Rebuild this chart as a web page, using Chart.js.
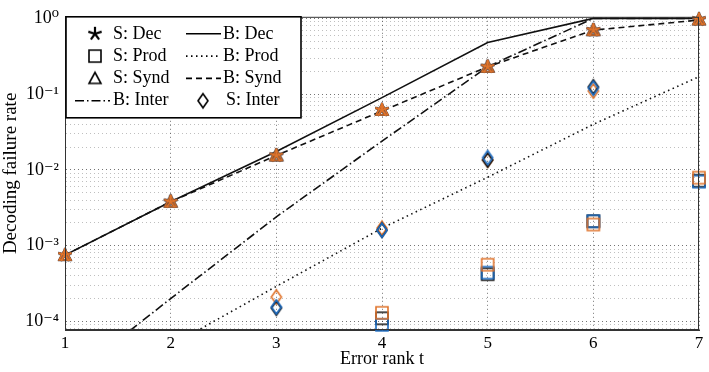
<!DOCTYPE html>
<html>
<head>
<meta charset="utf-8">
<script src="https://cdn.jsdelivr.net/npm/chart.js@4.4.1/dist/chart.umd.min.js"></script>
<style>
  html, body { margin: 0; padding: 0; background: #fff; }
  #wrap { width: 709px; height: 372px; }
</style>
</head>
<body>
<div id="wrap"><canvas id="myChart"></canvas></div>
<script>
const ranks = [1, 2, 3, 4, 5, 6, 7]

// bounds (lines)
const bDec = [7.5e-4, 3.8e-3, 1.75e-2, 9e-2, 0.48, 1, 1]
const bProd = [6e-6, 4.8e-5, 2.9e-4, 1.7e-3, 8e-3, 4e-2, 0.17]
const bSynd = [7.5e-4, 3.8e-3, 1.55e-2, 6e-2, 0.23, 0.7, 0.95]
const bInter = [1.6e-5, 2e-4, 2.4e-3, 2.4e-2, 0.23, 1, 1]

// simulations (markers), three runs each: black, blue, orange
const sDec = [7.5e-4, 3.8e-3, 1.55e-2, 6.2e-2, 0.23, 0.7, 0.97]
const sSynd = [7.5e-4, 3.8e-3, 1.55e-2, 6.2e-2, 0.23, 0.7, 0.97]
const sProdBlack = [null, null, null, 1.1e-4, 4.2e-4, 2.1e-3, 7.2e-3]
const sProdBlue = [null, null, null, 9e-5, 4.4e-4, 2.1e-3, 7e-3]
const sProdOrange = [null, null, null, 1.3e-4, 5.6e-4, 1.9e-3, 7.9e-3]
const sInterBlack = [null, null, 1.5e-4, 1.6e-3, 1.35e-2, 0.125, null]
const sInterBlue = [null, null, 1.55e-4, 1.6e-3, 1.45e-2, 0.12, null]
const sInterOrange = [null, null, 2.1e-4, 1.7e-3, 1.35e-2, 0.11, null]

const yTickLabels = ['10⁻⁴', '10⁻³', '10⁻²', '10⁻¹', '10⁰']
const xTickLabels = ['1', '2', '3', '4', '5', '6', '7']

const BLACK = '#111111'
const BLUE = '#1a6ac0'
const ORANGE = '#e0742c'
const FONT = "'Liberation Serif', 'DejaVu Serif', serif"

// marker images
const makeMarker = (shape, color) => {
    const c = document.createElement('canvas')
    c.width = 18
    c.height = 18
    const ctx = c.getContext('2d')
    ctx.strokeStyle = color
    ctx.lineWidth = 1.6
    ctx.lineJoin = 'miter'
    ctx.beginPath()
    if (shape === 'star') {
        for (let i = 0; i < 5; i++) {
            const a = -Math.PI / 2 + i * 2 * Math.PI / 5
            ctx.moveTo(9, 9)
            ctx.lineTo(9 + 7 * Math.cos(a), 9 + 7 * Math.sin(a))
        }
        ctx.lineWidth = 2.2
    } else if (shape === 'square') {
        ctx.rect(3, 3, 12, 12)
    } else if (shape === 'triangle') {
        ctx.moveTo(9, 3)
        ctx.lineTo(15, 14)
        ctx.lineTo(3, 14)
        ctx.closePath()
    } else if (shape === 'diamond') {
        ctx.moveTo(9, 2)
        ctx.lineTo(14, 9)
        ctx.lineTo(9, 16)
        ctx.lineTo(4, 9)
        ctx.closePath()
    }
    ctx.stroke()
    return c
}

const toPoints = (arr) => arr.map((v, i) => ({ x: ranks[i], y: v }))

const lineSet = (label, data, dash) => ({
    label: label,
    data: toPoints(data),
    borderColor: BLACK,
    borderWidth: 1.6,
    borderDash: dash,
    pointRadius: 0,
    showLine: true,
    fill: false,
    order: 10
})

const markerSet = (label, data, shape, color, order) => ({
    label: label,
    data: toPoints(data),
    showLine: false,
    pointStyle: makeMarker(shape, color),
    pointRadius: 9,
    clip: false,
    order: order
})

const datasets = [
    lineSet('B: Dec', bDec, []),
    lineSet('B: Prod', bProd, [1.5, 3.5]),
    lineSet('B: Synd', bSynd, [6, 4]),
    lineSet('B: Inter', bInter, [9, 3, 1.5, 3]),
    markerSet('S: Dec', sDec, 'star', BLACK, 3),
    markerSet('S: Prod', sProdBlack, 'square', BLACK, 3),
    markerSet('S: Synd', sSynd, 'triangle', BLACK, 3),
    markerSet('S: Inter', sInterBlack, 'diamond', BLACK, 2),
    markerSet('S: Dec blue', sDec, 'star', BLUE, 4),
    markerSet('S: Prod blue', sProdBlue, 'square', BLUE, 2),
    markerSet('S: Synd blue', sSynd, 'triangle', BLUE, 4),
    markerSet('S: Inter blue', sInterBlue, 'diamond', BLUE, 1),
    markerSet('S: Dec orange', sDec, 'star', ORANGE, 1),
    markerSet('S: Prod orange', sProdOrange, 'square', ORANGE, 1),
    markerSet('S: Synd orange', sSynd, 'triangle', ORANGE, 1),
    markerSet('S: Inter orange', sInterOrange, 'diamond', ORANGE, 3)
]

// legend rows in the order of the original box: [kind, label, kind, label]
const legendRows = [
    ['star', 'S: Dec', [], 'B: Dec'],
    ['square', 'S: Prod', [1.5, 3.5], 'B: Prod'],
    ['triangle', 'S: Synd', [6, 4], 'B: Synd'],
    [[9, 3, 1.5, 3], 'B: Inter', 'diamond', 'S: Inter']
]

const frameAndLegend = {
    id: 'frameAndLegend',
    afterDraw(chart) {
        const ctx = chart.ctx
        const a = chart.chartArea
        ctx.save()
        ctx.strokeStyle = '#333'
        ctx.lineWidth = 1
        ctx.strokeRect(a.left + 0.5, a.top + 0.5, a.right - a.left - 1, a.bottom - a.top - 1)

        // legend box
        const bx = a.left + 1, by = a.top, bw = 235, bh = 101
        ctx.fillStyle = '#fff'
        ctx.fillRect(bx, by, bw, bh)
        ctx.strokeStyle = '#000'
        ctx.lineWidth = 1.6
        ctx.strokeRect(bx, by, bw, bh)

        ctx.font = '18px ' + FONT
        ctx.fillStyle = '#000'
        ctx.textBaseline = 'middle'
        const drawSample = (kind, cx, x0, x1, y) => {
            if (typeof kind === 'string') {
                ctx.drawImage(makeMarker(kind, '#000'), cx - 9, y - 9)
            } else {
                ctx.save()
                ctx.setLineDash(kind)
                ctx.lineWidth = 1.6
                ctx.strokeStyle = '#000'
                ctx.beginPath()
                ctx.moveTo(x0, y)
                ctx.lineTo(x1, y)
                ctx.stroke()
                ctx.restore()
            }
        }
        legendRows.forEach((row, i) => {
            const y = by + 17 + i * 22.3
            drawSample(row[0], bx + 29, bx + 9, bx + 44, y)
            ctx.fillText(row[1], bx + 47, y)
            if (typeof row[2] === 'string') {
                drawSample(row[2], bx + 137, 0, 0, y)
                ctx.fillText(row[3], bx + 160, y)
            } else {
                drawSample(row[2], 0, bx + 120, bx + 155, y)
                ctx.fillText(row[3], bx + 157, y)
            }
        })
        ctx.restore()
    }
}

const config = {
    type: 'scatter',
    data: { datasets: datasets },
    options: {
        responsive: true,
        maintainAspectRatio: false,
        animation: false,
        layout: { padding: { left: 0, right: 7, top: 6, bottom: 0 } },
        plugins: {
            legend: { display: false },
            tooltip: { enabled: false }
        },
        scales: {
            x: {
                type: 'linear',
                min: 1,
                max: 7,
                afterFit: (s) => { s.height = 42 },
                ticks: {
                    stepSize: 1,
                    color: '#000',
                    font: { family: FONT, size: 17 },
                    padding: 3,
                    callback: (v) => xTickLabels[ranks.indexOf(v)] ?? ''
                },
                grid: { color: 'rgba(0,0,0,0.55)', lineWidth: 1, drawTicks: false },
                border: { display: true, color: '#333', width: 1, dash: [1, 3] },
                title: {
                    display: true,
                    text: 'Error rank t',
                    color: '#000',
                    font: { family: FONT, size: 18 },
                    padding: { top: 0, bottom: 2 }
                }
            },
            y: {
                type: 'logarithmic',
                min: 7.7e-5,
                max: 1.05,
                afterFit: (s) => { s.width = 65 },
                afterBuildTicks: (s) => {
                    const t = []
                    for (let k = -5; k <= 0; k++) {
                        for (let m = 1; m <= 9; m++) {
                            const v = m * Math.pow(10, k)
                            if (v >= s.min && v <= s.max) t.push({ value: v, major: m === 1 })
                        }
                    }
                    s.ticks = t
                },
                ticks: {
                    autoSkip: false,
                    color: '#000',
                    font: { family: FONT, size: 18 },
                    padding: 6,
                    callback: (v) => {
                        const e = Math.round(Math.log10(v))
                        if (Math.abs(v - Math.pow(10, e)) / v > 1e-6) return ''
                        return yTickLabels[e + 4] ?? ''
                    }
                },
                grid: {
                    drawTicks: false,
                    lineWidth: 1,
                    color: (c) => {
                        const v = c.tick ? c.tick.value : 0
                        const e = Math.round(Math.log10(v))
                        return Math.abs(v - Math.pow(10, e)) / v < 1e-6 ? 'rgba(0,0,0,0.55)' : 'rgba(0,0,0,0.25)'
                    }
                },
                border: { display: true, color: '#333', width: 1, dash: [1, 3] },
                title: {
                    display: true,
                    text: 'Decoding failure rate',
                    color: '#000',
                    font: { family: FONT, size: 19 },
                    padding: { top: 0, bottom: 0 }
                }
            }
        }
    },
    plugins: [frameAndLegend]
}

const myChart = new Chart(document.getElementById('myChart'), config)
</script>
</body>
</html>
